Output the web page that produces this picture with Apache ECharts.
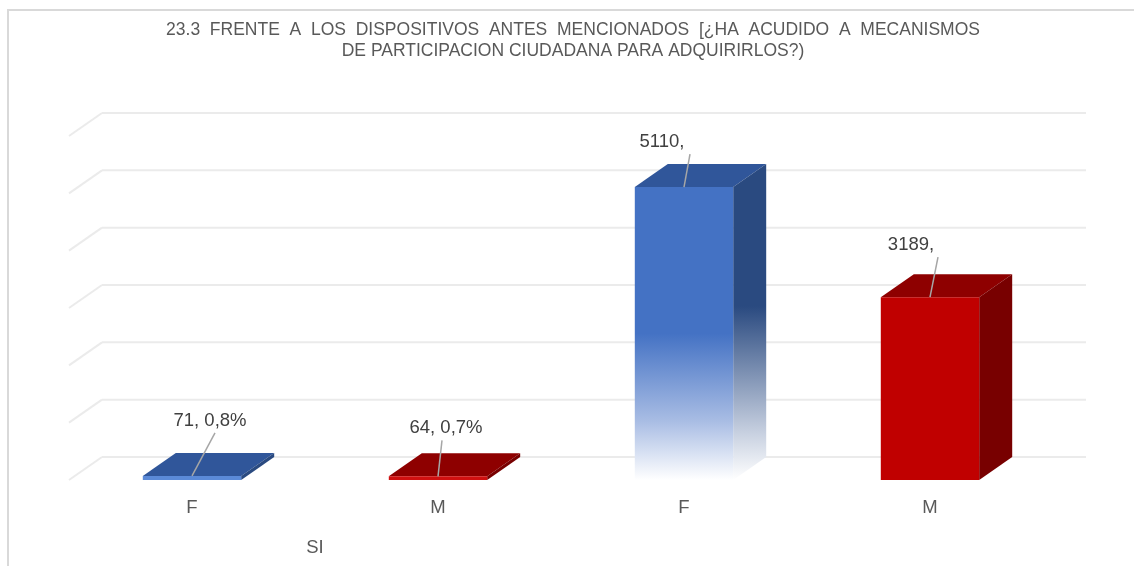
<!DOCTYPE html>
<html><head><meta charset="utf-8">
<script src="https://cdn.jsdelivr.net/npm/echarts@6/dist/echarts.min.js"></script>
<style>html,body{margin:0;padding:0;background:#fff}#c{width:1134px;height:566px}</style>
</head><body><div id="c"></div>
<script>
// ---- data ----
const titleLines = [
  '23.3  FRENTE  A  LOS  DISPOSITIVOS  ANTES  MENCIONADOS  [¿HA  ACUDIDO  A  MECANISMOS',
  'DE PARTICIPACION CIUDADANA PARA ADQUIRIRLOS?)'
];
const categories = ['F', 'M', 'F', 'M'];
const groups = ['SI', ''];
const values = [71, 64, 5110, 3189];
const valueLabels = ['71, 0,8%', '64, 0,7%', '5110,', '3189,'];
const yTicks = [0, 1000, 2000, 3000, 4000, 5000, 6000];

// ---- layout / style ----
const FONT = '"Liberation Sans", Arial, sans-serif';
const DX = 33, DY = -23;
const labelLayout = [
  {lx: 23, ly: -43, tx: 18, ty: -55},
  {lx: 4, ly: -36, tx: 8, ty: -48},
  {lx: 6, ly: -33, tx: -22, ty: -45},
  {lx: 8, ly: -40, tx: -19, ty: -52}
];
const palette = {
  F: {front: '#4472C4', top: '#30569A', side: '#2A4A80', edge: '#5B8AD8'},
  M: {front: '#C00000', top: '#8E0000', side: '#780000', edge: '#D01010'}
};

const chart = echarts.init(document.getElementById('c'), null, {renderer: 'canvas'});

function renderGrid(params, api) {
  const cs = params.coordSys;
  const y = api.coord([0, api.value(1)])[1];
  const st = {stroke: '#ebebeb', lineWidth: 2, fill: null};
  return {type: 'group', children: [
    {type: 'line', shape: {x1: cs.x, y1: y, x2: cs.x + DX, y2: y + DY}, style: st},
    {type: 'line', shape: {x1: cs.x + DX, y1: y + DY, x2: cs.x + cs.width + DX, y2: y + DY}, style: st}
  ]};
}

function renderBar(params, api) {
  const i = api.value(0), v = api.value(1);
  const c = api.coord([i, v]);
  const b = api.coord([i, 0]);
  const w = api.size([1, 0])[0] * 0.4;
  const x0 = c[0] - w / 2, x1 = c[0] + w / 2, yt = c[1], yb = b[1];
  const p = palette[categories[i]];
  let frontFill = yb - yt < 8 ? p.edge : p.front, sideFill = p.side;
  if (i === 2) {
    frontFill = new echarts.graphic.LinearGradient(0, 0, 0, 1, [
      {offset: 0, color: p.front}, {offset: 0.5, color: p.front},
      {offset: 0.8, color: '#a9bde4'}, {offset: 1, color: '#ffffff'}]);
    sideFill = new echarts.graphic.LinearGradient(0, 0, 0, 1, [
      {offset: 0, color: p.side}, {offset: 0.45, color: p.side},
      {offset: 0.85, color: '#c7d0e0'}, {offset: 1, color: '#ffffff'}]);
  }
  const L = labelLayout[i];
  const mx = c[0];
  return {type: 'group', children: [
    {type: 'polygon', shape: {points: [[x0, yt], [x1, yt], [x1 + DX, yt + DY], [x0 + DX, yt + DY]]}, style: {fill: p.top}},
    {type: 'polygon', shape: {points: [[x1, yt], [x1 + DX, yt + DY], [x1 + DX, yb + DY], [x1, yb]]}, style: {fill: sideFill}},
    {type: 'rect', shape: {x: x0, y: yt, width: w, height: Math.max(yb - yt, 2)}, style: {fill: frontFill}},
    {type: 'line', shape: {x1: mx, y1: yt, x2: mx + L.lx, y2: yt + L.ly}, style: {stroke: '#a6a6a6', lineWidth: 1.5}},
    {type: 'text', x: mx + L.tx, y: yt + L.ty, style: {text: valueLabels[i], align: 'center', verticalAlign: 'middle', fontSize: 18.5, fontFamily: FONT, fill: '#404040'}}
  ]};
}

chart.setOption({
  backgroundColor: '#ffffff',
  animation: false,
  grid: {left: 69, right: 81, top: 136, bottom: 86},
  xAxis: [
    {type: 'category', data: categories, axisLine: {show: false}, axisTick: {show: false},
     axisLabel: {fontSize: 18.5, fontFamily: FONT, color: '#595959', margin: 18}},
    {type: 'category', data: groups, position: 'bottom', offset: 40, axisLine: {show: false}, axisTick: {show: false},
     axisLabel: {fontSize: 18.5, fontFamily: FONT, color: '#595959', margin: 18}}
  ],
  yAxis: {type: 'value', min: 0, max: 6000, interval: 1000, axisLabel: {show: false}, axisLine: {show: false},
          axisTick: {show: false}, splitLine: {show: false}},
  graphic: [
    {type: 'polyline', shape: {points: [[8, 566], [8, 10], [1134, 10]]}, style: {stroke: '#d9d9d9', lineWidth: 2, fill: null}},
    {type: 'text', x: 573, y: 30, style: {text: titleLines[0], align: 'center', verticalAlign: 'middle', fontSize: 17.5, fontFamily: FONT, fill: '#595959'}},
    {type: 'text', x: 573, y: 51, style: {text: titleLines[1], align: 'center', verticalAlign: 'middle', fontSize: 17.5, fontFamily: FONT, fill: '#595959'}}
  ],
  series: [
    {type: 'custom', z: 1, silent: true, data: yTicks.map(v => [0, v]), renderItem: renderGrid},
    {type: 'custom', z: 5, data: values.map((v, i) => [i, v]), renderItem: renderBar}
  ]
});
</script></body></html>
